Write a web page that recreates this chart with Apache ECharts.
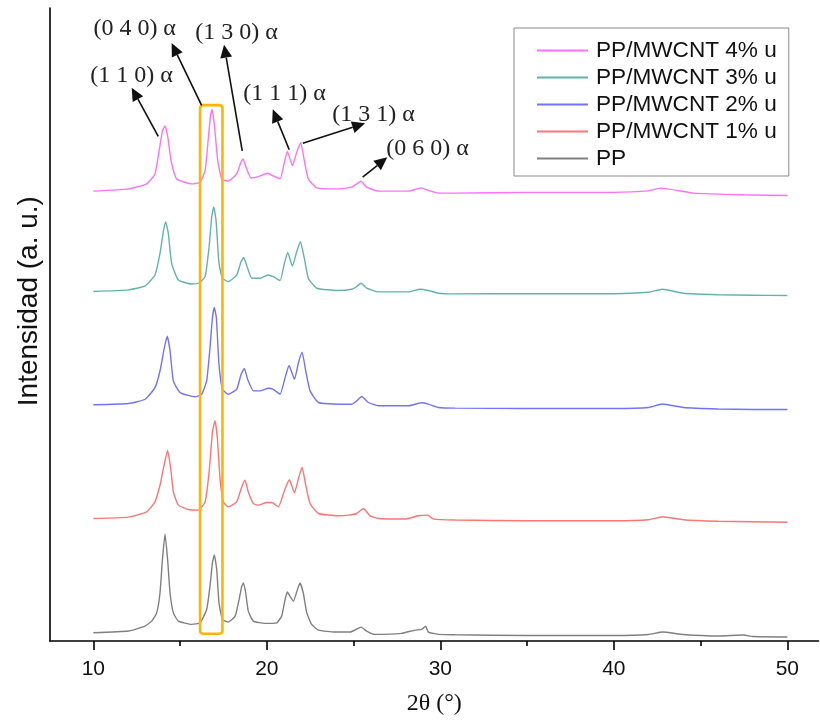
<!DOCTYPE html>
<html><head><meta charset="utf-8">
<script src="https://cdn.jsdelivr.net/npm/echarts@6/dist/echarts.min.js"></script>
<style>html,body{margin:0;padding:0;background:#fff}#c{width:820px;height:721px}</style>
</head><body><div id="c"></div>
<script>
// ---- data (2θ in degrees, intensity in arbitrary units, curves stacked with offsets) ----
const seriesNames = ['PP/MWCNT 4% u', 'PP/MWCNT 3% u', 'PP/MWCNT 2% u', 'PP/MWCNT 1% u', 'PP'];

const ppX = [10.00,12.02,12.98,13.36,13.65,13.84,13.98,14.13,14.28,14.42,14.61,14.90,15.67,16.15,16.53,16.72,16.86,16.97,17.11,17.24,17.44,17.78,18.17,18.40,18.55,18.65,18.78,18.93,19.22,19.89,20.57,20.85,21.05,21.18,21.33,21.53,21.76,21.91,22.10,22.30,22.58,22.97,23.93,24.79,25.08,25.43,25.75,26.23,27.77,28.54,28.92,29.15,29.31,29.88,30.85,35,40,42,42.8,44,46,47.5,48,50];
const ppY = [8.3,10,15,20,28.3,48.3,81.7,107.7,81.7,48.3,28.3,20,16.7,18.3,31.7,55,78.3,86.7,71.7,38.3,21.7,19,25,41.7,55,58.3,48.3,30,20,17.7,18.3,25,41.7,49.3,45,40,51.7,58.3,48.3,28.3,16.7,11,9,9,11,14,10,6.7,7.7,11,11.7,15,9,6.7,6.3,5.5,5.5,6.5,9,6.5,5,6,4.5,4];

const c1X = [10.00,12.02,13.07,13.55,13.84,14.03,14.28,14.46,14.61,14.90,15.48,16.05,16.44,16.67,16.86,17.01,17.15,17.30,17.49,17.78,18.26,18.55,18.74,18.93,19.22,19.51,19.99,20.28,20.66,21.05,21.30,21.59,21.82,22.03,22.24,22.49,22.97,24.12,24.70,25.18,25.56,25.95,26.43,27.96,28.73,29.27,29.60,30.85,35,40,42,42.8,44,46,48,50];
const c1Y = [123.3,124.7,130,140,156.7,173.3,191.7,173.3,150,136.7,132.3,131.7,140,170,210,221.7,203.3,163.3,140,135,140,155,161.7,150,138.3,136.7,139.3,139.3,135,153.3,162.3,149,163.3,175,156.7,138.3,128.3,126,126.7,128.3,133.3,126,123.3,122.7,126,126.7,122.7,121.7,121,121,122,125,122,120.5,120,119.5];

const c2X = [10.00,12.02,12.98,13.55,13.84,14.09,14.26,14.42,14.61,15.00,15.86,16.24,16.53,16.72,16.86,16.97,17.09,17.24,17.44,17.78,18.26,18.51,18.70,18.89,19.22,19.61,20.09,20.37,20.76,21.05,21.28,21.59,21.82,22.03,22.24,22.49,22.97,24.12,24.89,25.18,25.47,25.85,26.43,28.16,28.92,29.31,29.88,30.85,35,40,42,42.8,44,46,48,50];
const c2Y = [237.7,239,243.3,255,271.7,295,306.7,291.7,261.7,250,245.7,248.3,261.7,295,325,335.7,325,278.3,253.3,248.3,253.3,268.3,274.3,263.3,251.7,251.7,254.3,253.3,248.3,265,277.3,263.3,280,290.7,271.7,251.7,240,238.3,238.3,241.7,246,240,236.7,236.7,239.7,238.3,235,234.3,234,234,235,238.5,235,233.5,233,233];

const c3X = [10.00,12.02,12.98,13.55,13.84,14.03,14.17,14.32,14.51,14.90,15.67,16.05,16.44,16.67,16.82,16.94,17.07,17.24,17.44,17.78,18.26,18.51,18.66,18.86,19.13,19.61,20.05,20.37,20.76,21.01,21.20,21.47,21.72,21.93,22.16,22.39,22.87,24.12,24.89,25.12,25.43,25.75,26.43,28.16,28.83,29.31,29.88,30.85,35,40,42,42.8,44,46,48,50];
const c3Y = [351.7,353.3,357.3,368.3,390,411.7,421.7,410,380,363.3,359.3,360,366.7,396.7,426.7,436.7,423.3,380,365,361.7,368.3,381.7,386,376.7,365,365,368.3,366.7,362.7,380,391,377.3,391.7,401.7,385,365,355,352.7,354,356,360,355,351.3,351.3,354,352.7,350,349.3,349.5,349.5,351,354,350,348.5,348,347.7];

const c4X = [10.00,12.02,13.07,13.55,13.79,13.98,14.13,14.28,14.48,14.80,15.67,16.15,16.44,16.63,16.74,16.84,16.97,17.17,17.40,17.78,18.26,18.47,18.63,18.80,19.09,19.51,20.05,20.34,20.76,21.01,21.18,21.47,21.72,21.95,22.16,22.39,22.87,24.12,24.89,25.12,25.43,25.75,26.43,28.16,28.88,29.31,29.88,30.85,35,40,42,42.7,44.6,47.5,50];
const c4Y = [452.7,455,460,470,493.3,513.3,518.3,508.3,483.3,465,460,461.7,473.3,506.7,526.7,535,520,483.3,465,462.7,470,480,485,476.7,466,467.3,470.7,468.3,465,481.7,492.7,478.3,491.7,501.7,483.3,465,456,455,456.7,459.3,462.7,456.7,452.7,452.7,456,453.3,450.7,450.7,451.5,451.5,453,455.7,450.7,449,448.3];

const xTickLabels = [10, 20, 30, 40, 50];
const xMinorTicks = [15, 25, 35, 45];

// annotations anchored in data coordinates (2θ, a.u.)
const annotations = [
  {text: '(1 1 0) α', label: [12.20, 569], tail: [13.74, 507.7], head: [12.21, 556.7]},
  {text: '(0 4 0) α', label: [12.38, 616], tail: [16.24, 539.0], head: [14.51, 601.7]},
  {text: '(1 3 0) α', label: [18.25, 612], tail: [18.58, 493.3], head: [17.53, 600.0]},
  {text: '(1 1 1) α', label: [21.02, 551], tail: [21.29, 494.3], head: [20.34, 535.0]},
  {text: '(1 3 1) α', label: [26.15, 530], tail: [22.07, 501.0], head: [25.66, 521.0]},
  {text: '(0 6 0) α', label: [29.26, 495], tail: [25.52, 466.7], head: [26.94, 486.7]}
];
const highlightBox = {x0: 16.15, x1: 17.44, y0: 7.3, y1: 539.3};
const yTitle = 'Intensidad (a. u.)';
const yTitleAt = 342; // a.u. position of the title's centre along the axis

// ---- chart ----
const colors = ['#ff70ff', '#62b3ae', '#7272ff', '#ff7474', '#808080'];
const xs = [c4X, c3X, c2X, c1X, ppX];
const ys = [c4Y, c3Y, c2Y, c1Y, ppY];
const SANS = '"Liberation Sans", Arial, sans-serif';
const SERIF = '"Liberation Serif", "Times New Roman", serif';

const chart = echarts.init(document.getElementById('c'), null, {renderer: 'canvas'});
const series = seriesNames.map((n, i) => ({
  name: n, type: 'line', xAxisIndex: 0, yAxisIndex: 0,
  data: xs[i].map((x, k) => [x, ys[i][k]]),
  showSymbol: false, symbol: 'none', smooth: 0.15,
  lineStyle: {color: colors[i], width: 1.4}, itemStyle: {color: colors[i]},
  z: 2 + i
}));

chart.setOption({
  animation: false,
  backgroundColor: '#fff',
  grid: {left: 50, right: 1.4, top: 8, bottom: 76},
  xAxis: [{
    type: 'value', min: 7.5, max: 51.8, position: 'bottom',
    axisLine: {show: true, lineStyle: {color: '#000', width: 1.6}},
    axisTick: {show: true, customValues: xTickLabels, length: 9, lineStyle: {color: '#000', width: 1.6}},
    axisLabel: {customValues: xTickLabels, fontSize: 21, fontFamily: SANS, color: '#111', margin: 18},
    splitLine: {show: false},
    name: '2θ (°)', nameLocation: 'middle', nameGap: 51,
    nameTextStyle: {fontSize: 24, fontFamily: SERIF, color: '#111'}
  }, {
    type: 'value', min: 7.5, max: 51.8, position: 'bottom', offset: 0,
    axisLine: {show: false},
    axisTick: {show: true, customValues: xMinorTicks, length: 5, lineStyle: {color: '#000', width: 1.6}},
    axisLabel: {show: false}, splitLine: {show: false}
  }],
  yAxis: {
    type: 'value', min: 0, max: 637,
    axisLine: {show: true, lineStyle: {color: '#000', width: 1.6}},
    axisTick: {show: false}, axisLabel: {show: false}, splitLine: {show: false}
  },
  legend: {
    data: seriesNames, orient: 'vertical', left: 514, top: 28,
    padding: [11, 12, 6, 23], itemGap: 4, itemWidth: 51, itemHeight: 2,
    icon: 'rect', borderColor: '#8a8a8a', borderWidth: 1, borderRadius: 0,
    textStyle: {fontSize: 22.6, fontFamily: SANS, color: '#111', lineHeight: 22, padding: [0, 0, 0, 3]}
  },
  series: series
});

// overlay: annotation arrows, highlight box and y title, positioned via the chart's own scales
function px(p) { return chart.convertToPixel({gridIndex: 0}, p); }
const graphics = [];
const b0 = px([highlightBox.x0, highlightBox.y1]);
const b1 = px([highlightBox.x1, highlightBox.y0]);
graphics.push({type: 'rect', shape: {x: b0[0], y: b0[1], width: b1[0] - b0[0], height: b1[1] - b0[1], r: 3},
  style: {fill: 'none', stroke: '#ffb400', lineWidth: 2.6}, z: 50});
annotations.forEach(a => {
  const t = px(a.tail), h = px(a.head), l = px(a.label);
  const dx = h[0] - t[0], dy = h[1] - t[1], len = Math.hypot(dx, dy);
  const ux = dx / len, uy = dy / len, L = 13, W = 6;
  const bx = h[0] - ux * L, by = h[1] - uy * L;
  graphics.push({type: 'line', shape: {x1: t[0], y1: t[1], x2: bx, y2: by},
    style: {stroke: '#111', lineWidth: 1.6}, z: 60});
  graphics.push({type: 'polygon', shape: {points: [[h[0], h[1]], [bx - uy * W, by + ux * W], [bx + uy * W, by - ux * W]]},
    style: {fill: '#111'}, z: 60});
  graphics.push({type: 'text', x: l[0], y: l[1],
    style: {text: a.text, fontSize: 24, fontFamily: SERIF, fill: '#222', align: 'center', verticalAlign: 'middle'}, z: 60});
});
const yt = px([7.5, yTitleAt]);
graphics.push({type: 'text', x: yt[0] - 21, y: yt[1], rotation: Math.PI / 2,
  style: {text: yTitle, fontSize: 28, fontFamily: SANS, fill: '#111', align: 'center', verticalAlign: 'middle'}, z: 60});
chart.setOption({graphic: graphics});
</script>
</body></html>
